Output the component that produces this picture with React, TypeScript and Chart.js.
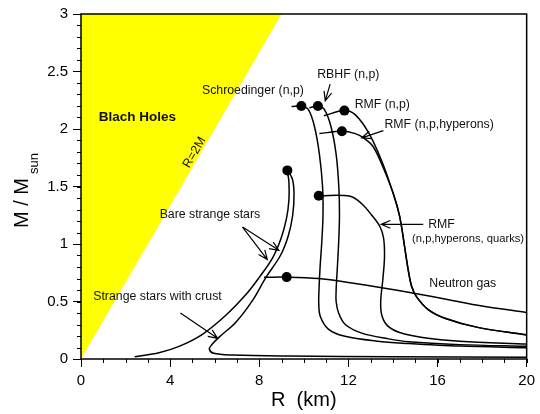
import { useEffect, useRef } from "react";
import { Chart, registerables } from "chart.js";

Chart.register(...registerables);

// ---- tick labels ----
const xTickLabels = ["0", "4", "8", "12", "16", "20"];
const yTickLabels = ["0", "0.5", "1", "1.5", "2", "2.5", "3"];

// ---- data: [R (km), M / Msun] ----
const horizonLine: [number, number][] = [[0, 0], [9.0, 3]];

const schroedinger: [number, number][] = [
  [9.45, 2.195], [9.89, 2.2], [10.2, 2.17], [10.48, 2.02], [10.7, 1.78], [10.84, 1.5],
  [10.86, 1.25], [10.8, 1.0], [10.73, 0.8], [10.68, 0.6], [10.67, 0.48], [10.74, 0.37],
  [11.1, 0.26], [11.8, 0.2], [13.3, 0.155], [14.7, 0.135], [17, 0.112], [20, 0.098],
];

const rbhf: [number, number][] = [
  [10.25, 2.185], [10.63, 2.2], [10.92, 2.17], [11.22, 2.02], [11.45, 1.78], [11.57, 1.5],
  [11.6, 1.25], [11.56, 1.0], [11.5, 0.78], [11.45, 0.6], [11.45, 0.5], [11.56, 0.4],
  [11.86, 0.3], [12.6, 0.225], [13.8, 0.175], [14.7, 0.15], [17, 0.125], [20, 0.11],
];

const rmfNP: [number, number][] = [
  [10.9, 2.115], [11.82, 2.16], [12.3, 2.125], [12.9, 1.97], [13.5, 1.72], [13.94, 1.48],
  [14.3, 1.24], [14.52, 0.98], [14.68, 0.78], [14.84, 0.63], [15.06, 0.54], [15.58, 0.43],
  [16.33, 0.355], [17.8, 0.275], [20, 0.21],
];

const rmfHyperons: [number, number][] = [
  [10.7, 1.96], [11.71, 1.98], [12.31, 1.96], [12.7, 1.92], [13.1, 1.85], [13.55, 1.67],
  [14.05, 1.42], [14.3, 1.24], [14.52, 0.98], [14.68, 0.78], [14.84, 0.63], [15.06, 0.54],
  [15.58, 0.43], [16.33, 0.355], [17.8, 0.275], [20, 0.21],
];

const rmfQuarks: [number, number][] = [
  [10.45, 1.42], [10.67, 1.42], [12.08, 1.415], [12.6, 1.35], [13.05, 1.25], [13.42, 1.15],
  [13.58, 1.05], [13.62, 0.89], [13.55, 0.7], [13.45, 0.5], [13.5, 0.38], [13.75, 0.29],
  [14.3, 0.23], [15.4, 0.185], [17, 0.155], [20, 0.13],
];

const neutronGas: [number, number][] = [
  [8.21, 0.71], [9.23, 0.712], [10.67, 0.7], [12.0, 0.665], [13.5, 0.62], [15.0, 0.57],
  [16.5, 0.515], [18.0, 0.46], [20, 0.405],
];

const bareStrange: [number, number][] = [
  [9.26, 1.64], [9.33, 1.54], [9.33, 1.38], [9.22, 1.22], [8.98, 1.05], [8.6, 0.88],
  [8.0, 0.71], [7.4, 0.56], [6.5, 0.38], [5.45, 0.215], [4.4, 0.11], [3.5, 0.055], [2.41, 0.02],
];

const crustStrange: [number, number][] = [
  [9.26, 1.64], [9.48, 1.57], [9.56, 1.44], [9.5, 1.25], [9.3, 1.07], [8.95, 0.9],
  [8.3, 0.71], [7.7, 0.51], [6.95, 0.32], [6.2, 0.19], [5.85, 0.12], [5.76, 0.085],
  [5.95, 0.05], [6.8, 0.035], [9.3, 0.026], [14, 0.02], [20, 0.016],
];

const maxMassPoints: [number, number][] = [
  [9.89, 2.2], [10.63, 2.2], [11.82, 2.16], [11.71, 1.98], [10.67, 1.42], [9.23, 0.712], [9.26, 1.64],
];

// ---- annotations (data coordinates) ----
const labels = [
  { text: "Blach Holes", r: 0.8, m: 2.1, bold: true, size: 13.5 },
  { text: "Schroedinger (n,p)", r: 5.43, m: 2.333, size: 12.3 },
  { text: "RBHF (n,p)", r: 10.6, m: 2.469, size: 12.3 },
  { text: "RMF (n,p)", r: 12.28, m: 2.212, size: 12.3 },
  { text: "RMF (n,p,hyperons)", r: 13.62, m: 2.036, size: 12.3 },
  { text: "RMF", r: 15.58, m: 1.171, size: 12.3 },
  { text: "(n,p,hyperons, quarks)", r: 14.86, m: 1.047, size: 11.2 },
  { text: "Bare strange stars", r: 3.53, m: 1.258, size: 12.3 },
  { text: "Strange stars with crust", r: 0.55, m: 0.54, size: 12.3 },
  { text: "Neutron gas", r: 15.63, m: 0.657, size: 12.3 },
];

const arrows = [
  { from: [11.18, 2.39], to: [10.96, 2.245] },
  { from: [13.57, 1.986], to: [12.6, 1.923] },
  { from: [15.36, 1.171], to: [13.47, 1.171] },
  { from: [7.25, 1.147], to: [8.36, 0.865] },
  { from: [7.25, 1.147], to: [8.88, 0.945] },
  { from: [4.46, 0.4], to: [6.13, 0.18] },
];

const horizonLabel = { text: "R=2M", r: 5.09, m: 1.795 };

const FONT = 'Arial, "Liberation Sans", Helvetica, sans-serif';
const xMinorStep = 1;
const yMinorStep = 0.1;

const toXY = (arr: [number, number][]) => arr.map(([x, y]) => ({ x, y }));

const decorPlugin = {
  id: "decor",
  afterDatasetsDraw(chart: any) {
    const { ctx, chartArea: a, scales } = chart;
    const xs = scales.x;
    const ys = scales.y;
    const px = (v: number) => xs.getPixelForValue(v);
    const py = (v: number) => ys.getPixelForValue(v);
    ctx.save();
    ctx.strokeStyle = "#000";
    ctx.fillStyle = "#000";

    // frame
    ctx.lineWidth = 1.5;
    ctx.strokeRect(a.left, a.top, a.right - a.left, a.bottom - a.top);

    // minor ticks
    ctx.lineWidth = 1;
    ctx.beginPath();
    for (let v = xs.min; v <= xs.max + 1e-9; v += xMinorStep) {
      const x = Math.round(px(v)) + 0.5;
      ctx.moveTo(x, a.bottom);
      ctx.lineTo(x, a.bottom + 4);
    }
    for (let i = 0; i <= Math.round((ys.max - ys.min) / yMinorStep); i++) {
      const y = Math.round(py(ys.min + i * yMinorStep)) + 0.5;
      ctx.moveTo(a.left - 4, y);
      ctx.lineTo(a.left, y);
    }
    ctx.stroke();

    // arrows
    ctx.lineWidth = 1.2;
    for (const ar of arrows) {
      const x0 = px(ar.from[0]), y0 = py(ar.from[1]);
      const x1 = px(ar.to[0]), y1 = py(ar.to[1]);
      const ang = Math.atan2(y1 - y0, x1 - x0);
      const hl = 10, ha = 0.4;
      ctx.beginPath();
      ctx.moveTo(x0, y0);
      ctx.lineTo(x1, y1);
      ctx.moveTo(x1 - hl * Math.cos(ang - ha), y1 - hl * Math.sin(ang - ha));
      ctx.lineTo(x1, y1);
      ctx.lineTo(x1 - hl * Math.cos(ang + ha), y1 - hl * Math.sin(ang + ha));
      ctx.stroke();
    }

    // labels
    ctx.textBaseline = "middle";
    ctx.textAlign = "left";
    for (const l of labels) {
      ctx.font = `${l.bold ? "bold " : ""}${l.size}px ${FONT}`;
      ctx.fillStyle = "#111";
      ctx.fillText(l.text, px(l.r), py(l.m));
    }

    // R=2M rotated label
    const p0x = px(horizonLine[0][0]), p0y = py(horizonLine[0][1]);
    const p1x = px(horizonLine[1][0]), p1y = py(horizonLine[1][1]);
    const angle = Math.atan2(p1y - p0y, p1x - p0x);
    ctx.save();
    ctx.translate(px(horizonLabel.r), py(horizonLabel.m));
    ctx.rotate(angle);
    ctx.textAlign = "center";
    ctx.font = `12.5px ${FONT}`;
    ctx.fillText(horizonLabel.text, 0, 0);
    ctx.restore();

    // axis titles
    ctx.fillStyle = "#000";
    ctx.textAlign = "center";
    ctx.textBaseline = "alphabetic";
    ctx.font = `20px ${FONT}`;
    ctx.fillText("R  (km)", (a.left + a.right) / 2, 406);

    ctx.save();
    ctx.translate(28, 228);
    ctx.rotate(-Math.PI / 2);
    ctx.textAlign = "left";
    ctx.font = `20px ${FONT}`;
    const main = "M / M";
    ctx.fillText(main, 0, 0);
    const w = ctx.measureText(main).width;
    ctx.font = `13px ${FONT}`;
    ctx.fillText("sun", w + 4, 10);
    ctx.restore();

    ctx.restore();
  },
};

export default function App() {
  const ref = useRef<HTMLCanvasElement | null>(null);

  useEffect(() => {
    document.body.style.margin = "0";
    if (!ref.current) return;
    const curve = (data: [number, number][]) => ({
      data: toXY(data),
      borderColor: "#000",
      borderWidth: 1.5,
      pointRadius: 0,
      fill: false,
      tension: 0.35,
      order: 2,
    });
    const chart = new Chart(ref.current, {
      type: "line",
      data: {
        datasets: [
          {
            data: toXY(maxMassPoints),
            showLine: false,
            pointRadius: 5,
            pointBackgroundColor: "#000",
            pointBorderColor: "#000",
            borderWidth: 0,
            order: 1,
          } as any,
          curve(schroedinger),
          curve(rbhf),
          curve(rmfNP),
          curve(rmfHyperons),
          curve(rmfQuarks),
          curve(neutronGas),
          curve(bareStrange),
          curve(crustStrange),
          {
            data: toXY(horizonLine),
            borderWidth: 0,
            borderColor: "rgba(0,0,0,0)",
            backgroundColor: "#FFFF00",
            pointRadius: 0,
            fill: "end",
            tension: 0,
            order: 10,
          } as any,
        ],
      },
      options: {
        animation: false,
        responsive: false,
        devicePixelRatio: 1,
        layout: { padding: { top: 13, right: 11, left: 0, bottom: 0 } },
        plugins: { legend: { display: false }, tooltip: { enabled: false } },
        scales: {
          x: {
            type: "linear",
            min: 0,
            max: 20,
            afterFit: (s: any) => {
              s.height = 55;
            },
            ticks: {
              stepSize: 4,
              color: "#000",
              padding: 5,
              maxRotation: 0,
              autoSkip: false,
              font: { family: FONT, size: 15 },
              callback: (_v: any, i: number) => xTickLabels[i] ?? "",
            },
            grid: {
              drawOnChartArea: false,
              drawTicks: true,
              tickLength: 8,
              tickColor: "#000",
              tickWidth: 1,
            },
            border: { display: false },
          },
          y: {
            type: "linear",
            min: 0,
            max: 3,
            afterFit: (s: any) => {
              s.width = 81;
            },
            ticks: {
              stepSize: 0.5,
              color: "#000",
              padding: 5,
              autoSkip: false,
              font: { family: FONT, size: 15 },
              callback: (_v: any, i: number) => yTickLabels[i] ?? "",
            },
            grid: {
              drawOnChartArea: false,
              drawTicks: true,
              tickLength: 8,
              tickColor: "#000",
              tickWidth: 1,
            },
            border: { display: false },
          },
        },
      },
      plugins: [decorPlugin],
    });
    return () => chart.destroy();
  }, []);

  return (
    <div style={{ width: 540, height: 414, background: "#fff" }}>
      <canvas ref={ref} width={540} height={414} />
    </div>
  );
}
